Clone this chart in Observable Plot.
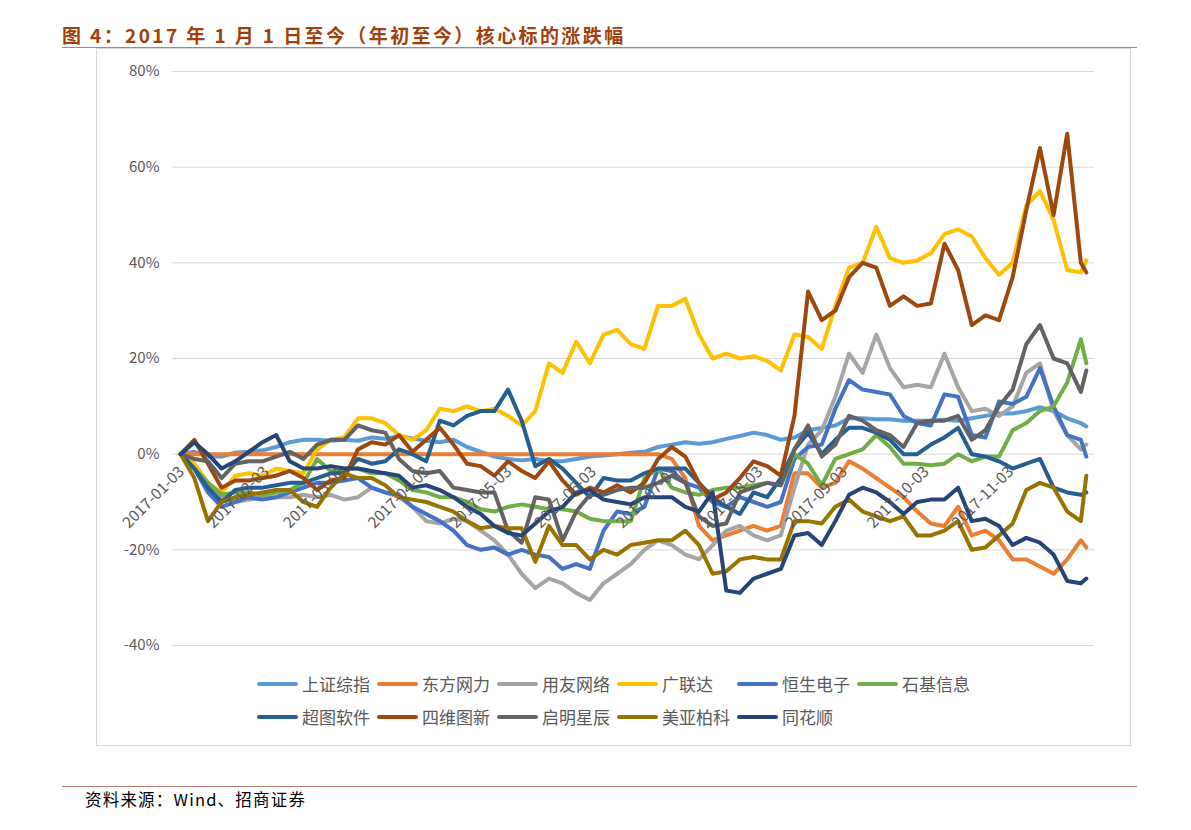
<!DOCTYPE html>
<html><head><meta charset="utf-8">
<script src="https://cdn.jsdelivr.net/npm/d3@7"></script>
<script src="https://cdn.jsdelivr.net/npm/@observablehq/plot@0.6"></script>
<style>
body{margin:0;background:#fff;width:1191px;height:830px;position:relative;overflow:hidden;font-family:"Noto Sans CJK SC","Noto Sans",sans-serif;}
#title{position:absolute;left:62px;top:22px;font-size:19px;letter-spacing:2.4px;font-weight:bold;color:#A0400C;white-space:nowrap;line-height:26px;}
.rule{position:absolute;left:62px;width:1075px;height:1px;background:#C27A70;}
#box{position:absolute;left:96px;top:48px;width:1035px;height:698px;border:1px solid #d9d9d9;box-sizing:border-box;}
#chart{position:absolute;left:0;top:0;}
#legend{position:absolute;left:257px;top:667px;width:730px;display:flex;flex-wrap:wrap;}
.item{width:120px;height:33px;display:flex;align-items:center;font-size:17px;color:#595959;white-space:nowrap;}
.sw{width:41px;height:4px;border-radius:2px;margin-right:4px;flex:none;}
#source{position:absolute;left:85px;top:787px;font-size:16.5px;letter-spacing:1.2px;color:#000;line-height:24px;}
</style></head>
<body>
<div id="title">图 4：2017 年 1 月 1 日至今（年初至今）核心标的涨跌幅</div>
<div class="rule" style="top:47px"></div>
<div id="box"></div>
<div id="chart"></div>
<div id="legend"></div>
<div class="rule" style="top:786px"></div>
<div id="source">资料来源：Wind、招商证券</div>
<script>
const dates = ["2017-01-03","2017-01-08","2017-01-13","2017-01-18","2017-01-23","2017-01-28","2017-02-02","2017-02-07","2017-02-12","2017-02-17",
"2017-02-22","2017-02-27","2017-03-04","2017-03-09","2017-03-14","2017-03-19","2017-03-24","2017-03-29","2017-04-03","2017-04-08",
"2017-04-13","2017-04-18","2017-04-23","2017-04-28","2017-05-03","2017-05-08","2017-05-13","2017-05-18","2017-05-23","2017-05-28",
"2017-06-02","2017-06-07","2017-06-12","2017-06-17","2017-06-22","2017-06-27","2017-07-02","2017-07-07","2017-07-12","2017-07-17",
"2017-07-22","2017-07-27","2017-08-01","2017-08-06","2017-08-11","2017-08-16","2017-08-21","2017-08-26","2017-08-31","2017-09-05",
"2017-09-10","2017-09-15","2017-09-20","2017-09-25","2017-09-30","2017-10-05","2017-10-10","2017-10-15","2017-10-20","2017-10-25",
"2017-10-30","2017-11-04","2017-11-09","2017-11-14","2017-11-19","2017-11-24","2017-11-29","2017-12-01"];

const seriesNames = ["上证综指","东方网力","用友网络","广联达","恒生电子","石基信息","超图软件","四维图新","启明星辰","美亚柏科","同花顺"];
const seriesColors = ["#5B9BD5","#ED7D31","#A5A5A5","#FFC000","#4472C4","#70AD47","#255E91","#9E480E","#636363","#997300","#264478"];

const sh000001 = [0,0.5,-0.5,-0.5,0.3,0.5,0.8,1.5,2.5,3, 3,2.8,3,2.8,3.5,3.2,3.8,3.3,2.8,2.5, 3,1.5,0.5,-0.5,-1,-1.3,-1,-1.5,-1.5,-1, -0.5,-0.3,0,0.3,0.5,1.5,2,2.5,2.2,2.5, 3.2,3.8,4.5,4,3,3.5,5,5.5,6,7.5, 7.5,7.3,7.3,7,7,7,7.2,7,7.5,8, 8.5,8.5,9,9.8,9,7.5,6.5,5.8];
const dfwl = [0,0,0,0,0,0,0,0,0,0, 0,0,0,0,0,0,0,0,0,0, 0,0,0,0,0,0,0,0,0,0, 0,0,0,0,0,0,-1,-5,-15,-18, -17,-16,-15,-16,-15,-4,-4,-7,-6,-1.5, -3,-5,-7,-9,-12,-14.5,-15,-11,-17,-16, -18,-22,-22,-23.5,-25,-22,-18,-19.5];
const yywl = [0,-3,-6,-9,-10,-9.5,-9,-9,-9,-8.5, -9,-8.5,-9.5,-9,-7,-8,-9,-11,-14,-14.5, -13.5,-14,-16,-18,-21,-25,-28,-26,-27,-29, -30.5,-27,-25,-23,-20,-18,-19,-21,-22,-19, -16,-15,-17,-18,-17,-7,2,5,12,21, 17,25,18,14,14.5,14,21,14,9,9.5, 8,10,17,19,9,4,1,2];
const gld = [0,-2,-6,-8,-4.5,-4,-4.5,-3,-3.5,-4, 1,3,3.5,7.5,7.5,6.5,4,3,5,9.5, 9,10,9,9.5,8,6,9,19,17,23.5, 19,25,26,23,22,31,31,32.5,25,20, 21,20,20.5,19.5,17.5,25,24.5,22,31,39, 40,47.5,41,40,40.5,42,46,47,45.5,41, 37.5,40,52,55,49,38.5,38,40.5];
const hsdz = [0,-3,-8,-11,-10,-9,-9.5,-9,-8,-7, -6,-6,-5.5,-5,-7,-8,-8.5,-11,-12.5,-14, -16,-19,-20,-19.5,-21,-20,-21,-21.5,-24,-23, -24,-16,-12,-12.5,-11,-3,-3.5,-6,-7,-10, -11,-9,-10,-11,-10,-1,1.5,2,9.5,15.5, 13.5,13,12.5,8,6.5,6,12.5,12,4,3.5, 11,10.5,12,18,10,4,3,-0.5];
const sjxx = [0,-3,-6,-8.5,-8,-8,-8.5,-8,-7.5,-6, -1,-3.5,-3,-3,-4,-4,-5.5,-7.5,-8,-9, -9,-10,-11.5,-12,-11,-10.5,-11,-11.5,-11.5,-12, -13.5,-14,-14,-14,-5,-3,-7,-8,-8.5,-7.5, -7,-7,-6.5,-6,-6.5,0,-2,-6.5,-1,0, 1,4,1.5,-2,-2,-2.3,-2,0,-1.5,-0.5, -0.5,5,6.5,9,10,15,24,19];
const ctrj = [0,-3,-7,-10,-7.5,-7,-7,-6.5,-6,-6, -5,-4,-4,-1,-2,-1.5,1,0,-1.5,7, 6,8,9,9,13.5,7,-2.5,-1,-3,-6, -9,-5,-5.5,-5.5,-4,-3,-3,-3,-6,-9, -11,-12.5,-8,-9,-5,1,4.5,0,3,5.5, 5.5,4.5,3,0,0,2,3.5,5.5,0,-0.5, -1.5,-3,-2,-1,-7,-8,-8.5,-8];
const swtx = [0,3,-2,-7,-5.5,-5.5,-5,-4.5,-3.5,-5, -7.5,-5.5,-5,1,2.5,2,4,0.5,3,5.5, 2,-2,-2.5,-4.5,-1.5,-3.5,-5,-1.5,-5.5,-8.5, -7,-8,-6.5,-8,-6,-1,1.5,-0.5,-6,-9.5, -8,-5,-1.5,-2.5,-4.5,8,34,28,30,37, 40,39,31,33,31,31.5,44,38.5,27,29, 28,37,51,64,50,67,40,38];
const qmxc = [0,-1,-1.5,-5,-2,-1.5,-1.5,-0.5,0.5,-1, 2,3,3,6,5,4.5,-1,-3.5,-4,-3.5, -7,-7.5,-8,-8,-16,-18.5,-9,-9.5,-18,-12, -8.5,-8.5,-7.5,-7,-7,-6,-4.5,-6,-13,-15, -14.5,-8,-7,-6,-6.5,1,6,-0.5,2,8, 7,5,4,1.5,6.5,7,7,8,3,5, 10,13.5,23,27,20,19,13,17.5];
const mybk = [0,-5,-14,-10,-9,-8.5,-8,-7.5,-7.5,-10, -11,-7,-4,-5,-5,-6.5,-9,-9.5,-10,-11, -12,-14,-15.5,-15,-15.5,-15.5,-22.5,-15,-19,-19, -22,-20,-21,-19,-18.5,-18,-18,-16,-19,-25, -24.5,-22,-21.5,-22,-22,-14,-14,-14.5,-11,-9.5, -12,-13,-14,-13,-17,-17,-16,-14,-20,-19.5, -17,-14.5,-7.5,-6,-7,-12,-14,-4.5];
const ths = [0,2.5,0,-3,-1.5,0.5,2.5,4,-1.5,-3, -3,-2.5,-3,-3,-3.5,-4,-4.5,-7,-6.5,-7.5, -9,-11,-12.5,-15,-16.5,-17,-14.5,-12,-11,-8, -7.5,-9.5,-10,-10.5,-9,-9,-9,-11,-12,-8, -28.5,-29,-26,-25,-24,-17,-16.5,-19,-14,-8.5, -7,-8,-10,-12.5,-10,-9.5,-9.5,-7,-14,-13.5, -15,-19,-17.5,-18.5,-21,-26.5,-27,-26];

const seriesValues = [sh000001,dfwl,yywl,gld,hsdz,sjxx,ctrj,swtx,qmxc,mybk,ths];
const yTicks = [-40,-20,0,20,40,60,80];
const xTickLabels = ["2017-01-03","2017-02-03","2017-03-03","2017-04-03","2017-05-03","2017-06-03","2017-07-03","2017-08-03","2017-09-03","2017-10-03","2017-11-03"];

const parse = d3.utcParse("%Y-%m-%d");
const rows = [];
seriesNames.forEach((name, s) => {
  seriesValues[s].forEach((v, i) => rows.push({name, date: parse(dates[i]), value: v}));
});

const font = '"Noto Sans CJK SC","Noto Sans",sans-serif';
const chart = Plot.plot({
  width: 1191,
  height: 760,
  marginTop: 71,
  marginBottom: 115,
  marginLeft: 172,
  marginRight: 97,
  style: {fontFamily: font, fontSize: "15px", background: "transparent", overflow: "visible"},
  x: {type: "utc", domain: [parse("2016-12-31"), parse("2017-12-04")], axis: null},
  y: {domain: [-40, 80], axis: null},
  color: {domain: seriesNames, range: seriesColors},
  marks: [
    Plot.gridY(yTicks, {stroke: "#d9d9d9", strokeOpacity: 1, strokeWidth: 1}),
    Plot.axisY(yTicks, {tickSize: 0, tickPadding: 13, tickFormat: d => d + "%", fill: "#595959", fontSize: 15, label: null}),
    Plot.line(rows, {x: "date", y: "value", z: "name", stroke: "name", strokeWidth: 4, strokeLinejoin: "round", strokeLinecap: "round"}),
    Plot.text(xTickLabels, {x: d => parse(d), y: 0, text: d => d, rotate: -45, textAnchor: "end", dx: 1, dy: 15, fill: "#595959", fontSize: 15.5})
  ]
});
document.getElementById("chart").appendChild(chart);

const legend = document.getElementById("legend");
seriesNames.forEach((name, i) => {
  const item = document.createElement("div");
  item.className = "item";
  const sw = document.createElement("span");
  sw.className = "sw";
  sw.style.background = seriesColors[i];
  const t = document.createElement("span");
  t.textContent = name;
  item.appendChild(sw); item.appendChild(t);
  legend.appendChild(item);
});
</script>
</body></html>
